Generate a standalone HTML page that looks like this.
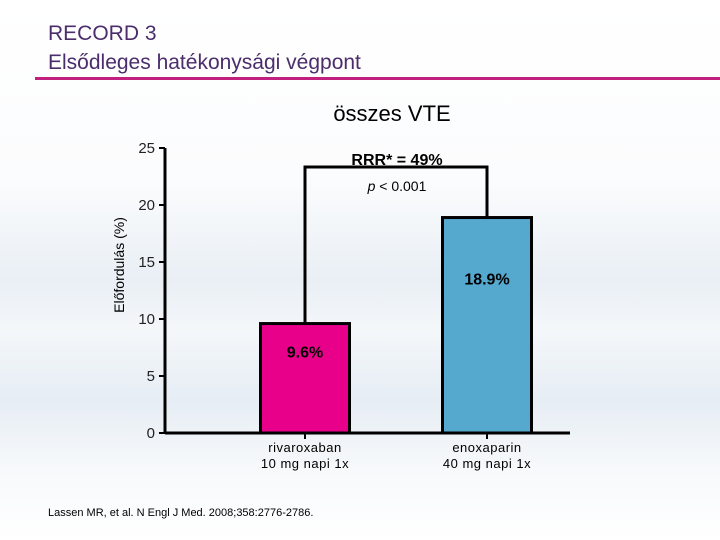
<!DOCTYPE html>
<html><head><meta charset="utf-8"><style>
body{margin:0;width:720px;height:540px;overflow:hidden;font-family:"Liberation Sans",sans-serif;
background:linear-gradient(180deg,#fff 0px,#fbfcfd 180px,#e9eff5 280px,#f4f7fa 330px,#e6edf4 400px,#f7f9fb 470px,#fff 540px);}
</style></head><body>
<svg width="720" height="540" style="position:absolute;left:0;top:0">
<text x="48" y="40" font-size="21" fill="#4b2d6b">RECORD 3</text>
<text x="48" y="69" font-size="21" fill="#4b2d6b">Elsődleges hatékonysági végpont</text>
<rect x="35" y="77" width="685" height="3" fill="#c2207e"/>
<text x="392" y="121" font-size="22" text-anchor="middle" fill="#000">összes VTE</text>
<text transform="translate(124,265) rotate(-90)" font-size="14" text-anchor="middle" fill="#000">Előfordulás (%)</text>
<g id="plot"></g>
<text x="397" y="165" font-size="16" font-weight="bold" text-anchor="middle">RRR* = 49%</text>
<text x="397" y="191" font-size="14" text-anchor="middle"><tspan font-style="italic">p</tspan> &lt; 0.001</text>
<text x="305" y="452" font-size="13" text-anchor="middle" letter-spacing="0.5">rivaroxaban</text>
<text x="305" y="468" font-size="13" text-anchor="middle" letter-spacing="0.5">10 mg napi 1x</text>
<text x="487" y="452" font-size="13" text-anchor="middle" letter-spacing="0.5">enoxaparin</text>
<text x="487" y="468" font-size="13" text-anchor="middle" letter-spacing="0.5">40 mg napi 1x</text>
<text x="48" y="516" font-size="11">Lassen MR, et al. N Engl J Med. 2008;358:2776-2786.</text>
</svg>
<script>
const categories=["rivaroxaban","enoxaparin"];
const values=[9.6,18.9];
const labels=["9.6%","18.9%"];
const ticks=[0,5,10,15,20,25];
const colors=["#e8008a","#55a8ce"];
const ns="http://www.w3.org/2000/svg";
const g=document.getElementById("plot");
const y0=433,ppu=11.4,axisX=165;
const y=v=>y0-v*ppu;
const cx=[305,487],bw=89;
function mk(t,a){const e=document.createElementNS(ns,t);for(const k in a)e.setAttribute(k,a[k]);g.appendChild(e);return e;}
let e=mk("line",{x1:axisX,y1:y(25),x2:axisX,y2:y0,stroke:"#000","stroke-width":3});


ticks.forEach(t=>{
 let l=mk("line",{x1:axisX-6,y1:y(t),x2:axisX,y2:y(t),stroke:"#000","stroke-width":2});
 
 
 let tx=mk("text",{x:axisX-10,y:y(t)+5,"font-size":15,"text-anchor":"end",fill:"#222"});
 tx.textContent=t;
 
 
});
categories.forEach((c,i)=>{
 let r=mk("rect",{x:cx[i]-bw/2,y:y(values[i]),width:bw,height:y0-y(values[i]),fill:colors[i],stroke:"#000","stroke-width":3});
 
 
 let t=mk("text",{x:cx[i],y:y(values[i])+(i?67:34),"font-size":16,"font-weight":"bold","text-anchor":"middle"});
 t.textContent=labels[i];
 
 
 let tk=mk("line",{x1:cx[i],y1:y0,x2:cx[i],y2:y0+6,stroke:"#000","stroke-width":2});
 
 
});
e=mk("line",{x1:axisX,y1:y0,x2:570,y2:y0,stroke:"#000","stroke-width":3});


const bt=167;
e=mk("polyline",{points:`${cx[0]},${y(values[0])} ${cx[0]},${bt} ${cx[1]},${bt} ${cx[1]},${y(values[1])}`,fill:"none",stroke:"#000","stroke-width":3});


</script>
</body></html>
